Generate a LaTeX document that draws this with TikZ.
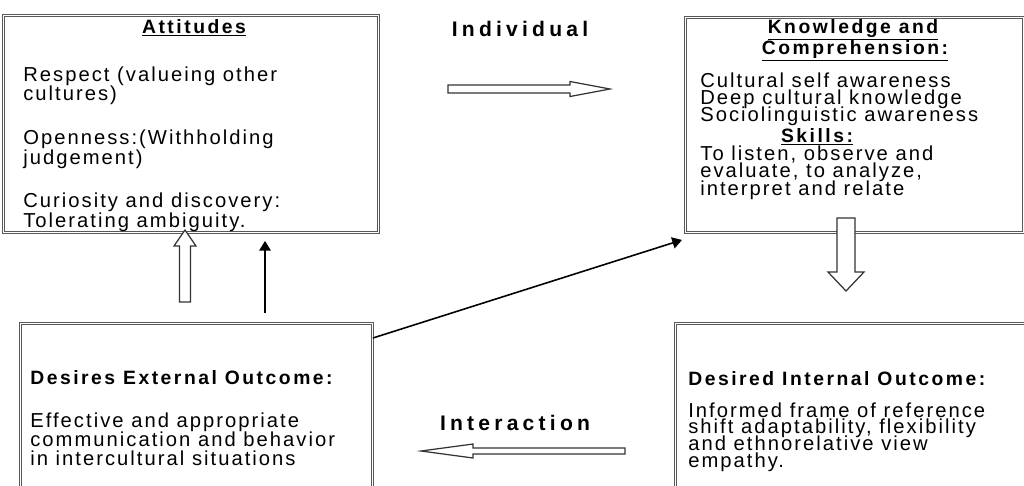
\documentclass[tikz,border=0pt]{standalone}
\usepackage{fontspec}
\setmainfont{Liberation Sans}
\newfontfamily\bodyfont[LetterSpace=10]{Liberation Sans}
\newfontfamily\headfont[LetterSpace=13]{Liberation Sans}
\newfontfamily\labelfont[LetterSpace=20]{Liberation Sans}
\usetikzlibrary{positioning,arrows.meta,calc}
\setlength{\lineskiplimit}{-20pt}
\newcommand{\bodysize}[1]{\fontsize{11.5pt}{#1}\selectfont}
\tikzset{
  frame/.style={draw=black!65, double, double distance=0.9pt, line width=0.55pt, anchor=north west, inner sep=0pt},
  body/.style={font={\bodyfont\bodysize{#1}}, align=left, inner sep=0pt, anchor=base west},
  body/.default={11.3pt},
  head/.style={font={\headfont\bfseries\fontsize{11pt}{12pt}\selectfont}, inner sep=0pt, anchor=base},
  lbl/.style={font={\labelfont\bfseries\fontsize{12pt}{13pt}\selectfont}, inner sep=0pt, anchor=base},
  hollow/.style={draw=black!80, fill=white, line width=0.7pt, line join=miter},
  arrow/.style={-{Triangle[length=5.5pt,width=6.5pt]}, line width=0.9pt}
}

\begin{document}
\begin{tikzpicture}[x=0.02cm, y=-0.02cm]
  \useasboundingbox (0,0) rectangle (1024,485);
  \clip (0,0) rectangle (1024,485);

  % the four boxes
  \node[frame, minimum width=7.5cm, minimum height=4.34cm] (att) at (3,15) {};
  \node[frame, minimum width=6.76cm, minimum height=4.3cm] (know) at (685,17) {};
  \node[frame, minimum width=7.04cm, minimum height=4cm] (ext) at (20,323) {};
  \node[frame, minimum width=7.5cm, minimum height=4cm] (int) at (675,323) {};

  % attitudes (base anchor sits on the last line)
  \node[head] (attT) at (194,33) {\underline{Attitudes}};
  \node[body] (attB) at (23,227) {Respect (valueing other\\cultures)\\[13.6pt]Openness:(Withholding\\judgement)\\[13pt]Curiosity and discovery:\\Tolerating ambiguity.};

  % knowledge and skills
  \node[head] (knowT) at (853,33) {\underline{Knowledge and}};
  \node[head] (knowT2) at (855,54) {\underline{Comprehension:}};
  \node[body=9.4pt] (knowB) at (700,121) {Cultural self awareness\\Deep cultural knowledge\\Sociolinguistic awareness};
  \node[head] (skillT) at (817,142) {\underline{Skills:}};
  \node[body=9.9pt] (skillB) at (700,195) {To listen, observe and\\evaluate, to analyze,\\interpret and relate};

  % outcomes
  \node[head, anchor=base west] (extT) at (30,384) {Desires External Outcome:};
  \node[body=10.8pt] (extB) at (30,465) {Effective and appropriate\\communication and behavior\\in intercultural situations};
  \node[head, anchor=base west] (intT) at (688,385) {Desired Internal Outcome:};
  \node[body=9.45pt] (intB) at (688,467) {Informed frame of reference\\shift adaptability, flexibility\\and ethnorelative view\\empathy.};

  \node[lbl] (indiv) at (520,36) {Individual};
  \node[lbl] (inter) at (515,430) {Interaction};

  % block arrows
  \draw[hollow] (448,85) -- (570,85) -- (570,81.5) -- (610,89) -- (570,96.5) -- (570,93) -- (448,93) -- cycle;
  \draw[hollow] (837,218) -- (837,272) -- (828,272) -- (846,291) -- (864,272) -- (855,272) -- (855,218) -- cycle;
  \draw[hollow] (625,448) -- (473,448) -- (473,444) -- (421,451) -- (473,458) -- (473,454) -- (625,454) -- cycle;
  \draw[hollow] (179.5,302) -- (179.5,246) -- (174,246) -- (185,230) -- (196,246) -- (190.5,246) -- (190.5,302) -- cycle;

  % plain arrows
  \coordinate (sx) at (265,0);
  \draw[arrow, shorten <=0.2cm, shorten >=0.16cm] (sx |- ext.north) -- (sx |- att.south);
  \draw[arrow] ($(ext.north east)+(0,15)$) -- ($(know.south west)+(-3,7)$);
\end{tikzpicture}
\end{document}
